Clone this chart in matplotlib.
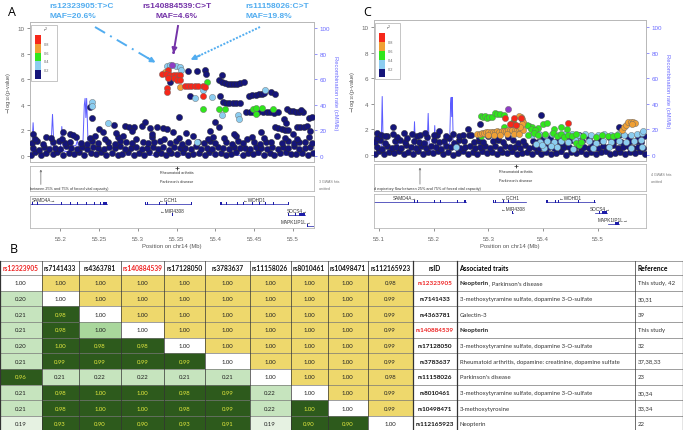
import matplotlib
matplotlib.use('Agg')
import matplotlib.pyplot as plt
from matplotlib.patches import Rectangle, FancyArrowPatch
from matplotlib.lines import Line2D

plt.rcParams['font.family'] = ['Liberation Sans', 'DejaVu Sans']

# ---------------- data: recombination rate (cM/Mb) ----------------
recomb_pos = [55.085, 55.100, 55.104, 55.106, 55.108, 55.120, 55.133, 55.135, 55.137, 55.150,
              55.160, 55.163, 55.165, 55.167, 55.180, 55.186, 55.188, 55.190, 55.192, 55.198,
              55.200, 55.202, 55.204, 55.212, 55.213, 55.220, 55.222, 55.224, 55.226, 55.229,
              55.231, 55.232, 55.233, 55.234, 55.236, 55.245, 55.270, 55.300, 55.340, 55.380,
              55.420, 55.460, 55.500, 55.540, 55.590]
recomb_rate = [1.0, 1.2, 2.0, 45.7, 2.0, 1.0, 1.5, 15.0, 1.5, 1.0,
               1.2, 2.0, 26.0, 2.5, 2.0, 3.0, 6.0, 32.5, 5.0, 3.0,
               4.0, 23.0, 4.0, 3.0, 8.0, 8.0, 12.0, 6.0, 9.0, 6.0,
               40.0, 45.0, 30.0, 45.0, 6.0, 1.5, 0.8, 0.6, 0.5, 0.7,
               0.5, 0.6, 0.8, 0.6, 0.5]

# ---------------- panel A SNPs ----------------
a_band_pos = [55.162, 55.168, 55.175, 55.182, 55.190, 55.196, 55.203, 55.211, 55.218, 55.224,
              55.231, 55.239, 55.246, 55.252, 55.259, 55.267, 55.274, 55.280, 55.287, 55.295,
              55.302, 55.308, 55.315, 55.323, 55.330, 55.336, 55.343, 55.351, 55.358, 55.364,
              55.371, 55.379, 55.386, 55.392, 55.399, 55.407, 55.414, 55.420, 55.427, 55.435,
              55.442, 55.448, 55.455, 55.463, 55.470, 55.476, 55.483, 55.491, 55.498, 55.504,
              55.511, 55.519, 55.526,
              55.165, 55.172, 55.179, 55.186, 55.193, 55.200, 55.207, 55.214, 55.221, 55.228,
              55.235, 55.242, 55.249, 55.256, 55.263, 55.270, 55.277, 55.284, 55.291, 55.298,
              55.305, 55.312, 55.319, 55.326, 55.333, 55.340, 55.347, 55.354, 55.361, 55.368,
              55.375, 55.382, 55.389, 55.396, 55.403, 55.410, 55.417, 55.424, 55.431, 55.438,
              55.445, 55.452, 55.459, 55.466, 55.473, 55.480, 55.487, 55.494, 55.501, 55.508,
              55.515, 55.522,
              55.163, 55.170, 55.178, 55.191, 55.198, 55.206, 55.213, 55.227, 55.234, 55.241,
              55.249, 55.262, 55.270, 55.277, 55.285, 55.292, 55.306, 55.313, 55.321, 55.328,
              55.342, 55.349, 55.357, 55.364, 55.378, 55.385, 55.393, 55.400, 55.414, 55.421,
              55.429, 55.436, 55.450, 55.457, 55.465, 55.472, 55.486, 55.493, 55.501, 55.508,
              55.516, 55.524,
              55.167, 55.181, 55.188, 55.202, 55.220, 55.238, 55.245, 55.258, 55.274, 55.281,
              55.297, 55.318, 55.334, 55.353, 55.371, 55.390, 55.397, 55.411, 55.426, 55.441,
              55.447, 55.462, 55.479, 55.490, 55.505, 55.520]
a_band_logp = [0.10, 0.28, 0.05, 0.22, 0.15, 0.32, 0.08, 0.25, 0.12, 0.30,
               0.06, 0.20, 0.14, 0.33, 0.09, 0.26, 0.04, 0.18, 0.29, 0.11,
               0.24, 0.07, 0.31, 0.16, 0.21, 0.05, 0.27, 0.13, 0.34, 0.08,
               0.19, 0.23, 0.06, 0.30, 0.12, 0.25, 0.09, 0.17, 0.28, 0.04,
               0.22, 0.14, 0.31, 0.10, 0.26, 0.07, 0.20, 0.33, 0.12, 0.18,
               0.27, 0.08, 0.21,
               0.62, 0.50, 0.71, 0.58, 0.66, 0.54, 0.75, 0.60, 0.52, 0.69,
               0.57, 0.73, 0.63, 0.51, 0.68, 0.59, 0.77, 0.55, 0.64, 0.70,
               0.53, 0.61, 0.74, 0.56, 0.67, 0.50, 0.72, 0.60, 0.65, 0.54,
               0.76, 0.58, 0.63, 0.52, 0.70, 0.61, 0.55, 0.74, 0.59, 0.66,
               0.51, 0.69, 0.62, 0.57, 0.73, 0.54, 0.68, 0.60, 0.75, 0.56,
               0.64, 0.71,
               1.02, 1.15, 0.96, 1.08, 1.18, 0.99, 1.12, 1.05, 0.95, 1.16,
               1.03, 1.10, 0.97, 1.19, 1.06, 1.00, 1.13, 0.98, 1.09, 1.17,
               1.01, 1.14, 0.96, 1.07, 1.11, 0.99, 1.18, 1.04, 1.08, 0.97,
               1.15, 1.02, 1.10, 0.95, 1.12, 1.06, 1.00, 1.16, 0.98, 1.09,
               1.13, 1.03,
               1.35, 1.52, 1.42, 1.30, 1.48, 1.38, 1.55, 1.33, 1.45, 1.60,
               1.36, 1.50, 1.32, 1.44, 1.58, 1.34, 1.47, 1.40, 1.53, 1.31,
               1.46, 1.38, 1.56, 1.42, 1.35, 1.50]

a_navy_pos = [55.238, 55.241, 55.269,
              55.283, 55.288, 55.295, 55.305, 55.316, 55.325, 55.333, 55.338,
              55.250, 55.213, 55.309,
              55.341, 55.341, 55.365, 55.376, 55.386, 55.388, 55.409,
              55.404, 55.408, 55.412, 55.416, 55.420, 55.424, 55.428, 55.432, 55.437,
              55.367,
              55.410, 55.414, 55.418, 55.422, 55.427, 55.432,
              55.406,
              55.443, 55.447, 55.452, 55.456, 55.460, 55.463, 55.472, 55.477,
              55.440, 55.444, 55.449, 55.455, 55.461, 55.466, 55.470, 55.476, 55.481,
              55.492, 55.496, 55.500, 55.504, 55.508, 55.513, 55.510,
              55.477, 55.481, 55.486, 55.490, 55.493,
              55.505, 55.509, 55.514, 55.518,
              55.520, 55.488, 55.491, 55.522,
              55.353, 55.399, 55.405, 55.524,
              55.165, 55.204, 55.217, 55.255, 55.272, 55.292, 55.318, 55.345, 55.362, 55.393,
              55.424, 55.459, 55.500]
a_navy_logp = [3.85, 2.97, 2.42,
               2.37, 2.30, 2.25, 2.33, 2.20, 2.28, 2.15, 2.10,
               2.10, 1.72, 2.63,
               5.82, 6.07, 6.62, 6.62, 6.74, 6.40, 6.33,
               5.90, 5.80, 5.70, 5.62, 5.60, 5.62, 5.65, 5.70, 5.75,
               4.71,
               4.19, 4.17, 4.15, 4.16, 4.14, 4.15,
               4.66,
               4.70, 4.75, 4.80, 4.85, 4.88, 4.90, 5.02, 4.84,
               3.40, 3.42, 3.40, 3.45, 3.41, 3.43, 3.40, 3.38, 3.42,
               3.67, 3.55, 3.50, 3.45, 3.47, 3.40, 3.60,
               2.30, 2.20, 2.10, 2.05, 2.00,
               2.30, 2.28, 2.30, 2.32,
               2.94, 2.90, 2.60, 1.98,
               3.02, 2.63, 2.24, 3.02,
               1.75, 1.85, 1.65, 1.90, 1.80, 1.95, 1.70, 1.88, 1.78, 1.92,
               1.68, 1.85, 1.75]

a_lblue_pos = [55.241, 55.241, 55.262, 55.337, 55.342, 55.349, 55.354, 55.356, 55.384, 55.373,
               55.396, 55.408, 55.429, 55.430, 55.464, 55.376]
a_lblue_logp = [4.20, 3.90, 2.55, 7.05, 7.10, 7.00, 6.93, 6.74, 5.16, 4.53,
                4.58, 3.20, 3.20, 2.90, 5.18, 1.12]

a_green_pos = [55.389, 55.384, 55.405, 55.412, 55.449, 55.452, 55.460, 55.474, 55.452]
a_green_logp = [5.80, 3.67, 3.70, 3.70, 3.70, 3.72, 3.72, 3.70, 3.28]

a_orange_pos = [55.354, 55.335]
a_orange_logp = [5.40, 6.54]

a_red_pos = [55.339, 55.331, 55.336, 55.341, 55.346, 55.350, 55.354, 55.339, 55.346, 55.350,
             55.354, 55.337, 55.337, 55.361, 55.365, 55.369, 55.373, 55.378, 55.384, 55.386,
             55.384]
a_red_logp = [6.72, 6.40, 6.40, 6.35, 6.35, 6.35, 6.35, 6.10, 6.10, 5.90,
              5.90, 5.29, 5.02, 5.50, 5.48, 5.45, 5.45, 5.45, 5.50, 5.40,
              4.71]

a_lead_pos = [55.344]
a_lead_logp = [7.13]

# ---------------- panel C SNPs ----------------
c_band_pos = [55.092, 55.100, 55.109, 55.118, 55.127, 55.136, 55.145, 55.154, 55.163, 55.172,
              55.181, 55.190, 55.199, 55.208, 55.217, 55.226, 55.235, 55.244, 55.253, 55.262,
              55.271, 55.280, 55.289, 55.298, 55.307, 55.316, 55.325, 55.334, 55.343, 55.352,
              55.361, 55.370, 55.379, 55.388, 55.397, 55.406, 55.415, 55.424, 55.433, 55.442,
              55.451, 55.460, 55.469, 55.478, 55.487, 55.496, 55.505, 55.514, 55.523, 55.532,
              55.541, 55.550, 55.559, 55.568, 55.577, 55.586,
              55.096, 55.105, 55.114, 55.123, 55.132, 55.141, 55.150, 55.159, 55.168, 55.177,
              55.186, 55.195, 55.204, 55.213, 55.222, 55.231, 55.240, 55.249, 55.258, 55.267,
              55.276, 55.285, 55.294, 55.303, 55.312, 55.321, 55.330, 55.339, 55.348, 55.357,
              55.366, 55.375, 55.384, 55.393, 55.402, 55.411, 55.420, 55.429, 55.438, 55.447,
              55.456, 55.465, 55.474, 55.483, 55.492, 55.501, 55.510, 55.519, 55.528, 55.537,
              55.546, 55.555, 55.564, 55.573, 55.582,
              55.093, 55.102, 55.111, 55.129, 55.138, 55.147, 55.165, 55.174, 55.183, 55.201,
              55.210, 55.219, 55.237, 55.246, 55.255, 55.273, 55.282, 55.291, 55.309, 55.318,
              55.327, 55.345, 55.354, 55.363, 55.381, 55.390, 55.399, 55.417, 55.426, 55.435,
              55.453, 55.462, 55.471, 55.489, 55.498, 55.507, 55.525, 55.534, 55.543, 55.561,
              55.570, 55.579,
              55.097, 55.115, 55.133, 55.151, 55.170, 55.188, 55.206, 55.228, 55.246, 55.264,
              55.282, 55.300, 55.318, 55.336, 55.394, 55.412, 55.430, 55.448, 55.466, 55.484,
              55.502, 55.520, 55.538, 55.556, 55.574, 55.585]
c_band_logp = [0.10, 0.28, 0.05, 0.22, 0.15, 0.32, 0.08, 0.25, 0.12, 0.30,
               0.06, 0.20, 0.14, 0.33, 0.09, 0.26, 0.04, 0.18, 0.29, 0.11,
               0.24, 0.07, 0.31, 0.16, 0.21, 0.05, 0.27, 0.13, 0.34, 0.08,
               0.19, 0.23, 0.06, 0.30, 0.12, 0.25, 0.09, 0.17, 0.28, 0.04,
               0.22, 0.14, 0.31, 0.10, 0.26, 0.07, 0.20, 0.33, 0.12, 0.18,
               0.27, 0.08, 0.21, 0.15, 0.29, 0.11,
               0.62, 0.50, 0.71, 0.58, 0.66, 0.54, 0.75, 0.60, 0.52, 0.69,
               0.57, 0.73, 0.63, 0.51, 0.68, 0.59, 0.77, 0.55, 0.64, 0.70,
               0.53, 0.61, 0.74, 0.56, 0.67, 0.50, 0.72, 0.60, 0.65, 0.54,
               0.76, 0.58, 0.63, 0.52, 0.70, 0.61, 0.55, 0.74, 0.59, 0.66,
               0.51, 0.69, 0.62, 0.57, 0.73, 0.54, 0.68, 0.60, 0.75, 0.56,
               0.64, 0.71, 0.58, 0.66, 0.53,
               1.02, 1.15, 0.96, 1.08, 1.18, 0.99, 1.12, 1.05, 0.95, 1.16,
               1.03, 1.10, 0.97, 1.19, 1.06, 1.00, 1.13, 0.98, 1.09, 1.17,
               1.01, 1.14, 0.96, 1.07, 1.11, 0.99, 1.18, 1.04, 1.08, 0.97,
               1.15, 1.02, 1.10, 0.95, 1.12, 1.06, 1.00, 1.16, 0.98, 1.09,
               1.13, 1.03,
               1.35, 1.52, 1.42, 1.30, 1.48, 1.38, 1.55, 1.33, 1.45, 1.60,
               1.36, 1.50, 1.32, 1.44, 1.58, 1.34, 1.47, 1.40, 1.53, 1.31,
               1.46, 1.38, 1.56, 1.42, 1.35, 1.50]

c_navy_pos = [55.125, 55.126, 55.284, 55.397, 55.538,
              55.096, 55.104, 55.112, 55.146, 55.160, 55.175, 55.185, 55.200, 55.222, 55.235,
              55.254, 55.269, 55.300,
              55.262, 55.210]
c_navy_logp = [2.15, 1.63, 2.40, 3.10, 2.20,
               1.70, 1.55, 1.50, 1.75, 1.62, 1.60, 1.70, 1.58, 1.50, 1.62,
               1.58, 1.55, 1.65,
               2.00, 1.85]

c_lblue_pos = [55.240,
               55.380, 55.392, 55.404, 55.416, 55.428, 55.440, 55.452, 55.464, 55.476, 55.488,
               55.500, 55.512, 55.524, 55.536, 55.548, 55.560, 55.572, 55.580, 55.583,
               55.395, 55.408, 55.420, 55.433, 55.445, 55.458, 55.470, 55.484, 55.497, 55.510,
               55.524, 55.538, 55.552, 55.566, 55.578,
               55.402, 55.425, 55.455, 55.492, 55.520, 55.560, 55.580,
               55.387, 55.398, 55.414]
c_lblue_logp = [0.60,
                1.55, 1.62, 1.58, 1.65, 1.60, 1.68, 1.62, 1.58, 1.64, 1.60,
                1.56, 1.62, 1.58, 1.66, 1.60, 1.57, 1.63, 1.70, 1.90,
                1.05, 1.12, 0.98, 1.10, 1.02, 1.15, 1.00, 1.08, 0.95, 1.12,
                1.04, 1.10, 0.98, 1.06, 1.14,
                0.55, 0.62, 0.50, 0.58, 0.65, 0.52, 0.60,
                0.85, 0.75, 0.70]

c_green_pos = [55.286, 55.290, 55.294, 55.298, 55.302, 55.306, 55.313, 55.316, 55.322, 55.329,
               55.287, 55.328,
               55.374, 55.380, 55.378, 55.390, 55.386, 55.400, 55.407, 55.420, 55.432, 55.444,
               55.373, 55.384, 55.390, 55.404, 55.418, 55.425, 55.432, 55.438, 55.446, 55.452,
               55.460, 55.472, 55.496, 55.508, 55.518, 55.528, 55.535,
               55.460, 55.466, 55.470,
               55.345, 55.355, 55.370]
c_green_logp = [3.05, 2.98, 3.08, 2.90, 3.00, 2.95, 3.26, 3.20, 3.18, 3.15,
                1.45, 2.15,
                2.30, 2.20, 2.05, 2.10, 1.95, 2.40, 2.48, 2.05, 2.15, 2.00,
                1.60, 1.70, 1.55, 1.65, 1.75, 1.50, 1.62, 1.40, 1.55, 1.45,
                1.65, 1.50, 1.40, 1.55, 1.45, 1.50, 1.60,
                0.95, 0.80, 1.00,
                2.55, 2.25, 2.35]

c_orange_pos = [55.280, 55.284, 55.288, 55.292, 55.296, 55.300, 55.304, 55.308, 55.312, 55.316,
                55.320, 55.324, 55.328, 55.332, 55.336, 55.340, 55.344, 55.348, 55.352, 55.356,
                55.360, 55.364,
                55.300, 55.310, 55.322, 55.334, 55.346, 55.356,
                55.360, 55.362, 55.364, 55.362, 55.358, 55.356,
                55.545, 55.548, 55.552, 55.556, 55.560, 55.565, 55.568, 55.562]
c_orange_logp = [1.62, 1.68, 1.72, 1.70, 1.76, 1.80, 1.78, 1.82, 1.80, 1.85,
                 1.83, 1.88, 1.86, 1.90, 1.92, 1.95, 1.93, 1.98, 1.96, 2.00,
                 2.02, 1.98,
                 1.55, 1.58, 1.60, 1.64, 1.62, 1.68,
                 2.95, 2.78, 2.60, 2.40, 2.22, 3.05,
                 1.96, 2.20, 2.35, 2.55, 2.58, 2.60, 2.50, 2.42]

c_red_pos = [55.331, 55.347, 55.359, 55.344, 55.350, 55.445, 55.340]
c_red_logp = [2.92, 2.92, 2.92, 2.40, 2.33, 2.48, 2.45]

c_lead_pos = [55.335]
c_lead_logp = [3.62]

# ---------------- genes ----------------
gene_names = ['SAMD4A', 'GCH1', 'MIR4308', 'WDHD1', 'SOCS4', 'MAPK1IP1L']
gene_start = [55.034, 55.309, 55.3435, 55.406, 55.494, 55.518]
gene_end = [55.260, 55.369, 55.3445, 55.494, 55.516, 55.538]
gene_row = [0, 0, 1, 0, 1, 2]
gene_strand = ['+', '-', '-', '-', '+', '+']
gene_exons = [
    [(55.034, 55.035), (55.164, 55.165), (55.170, 55.171), (55.201, 55.202), (55.212, 55.213),
     (55.222, 55.223), (55.233, 55.234), (55.243, 55.244), (55.251, 55.252), (55.255, 55.260)],
    [(55.309, 55.311), (55.312, 55.313), (55.327, 55.328), (55.336, 55.337), (55.368, 55.369)],
    [(55.3435, 55.3445)],
    [(55.406, 55.409), (55.414, 55.415), (55.422, 55.423), (55.428, 55.429), (55.436, 55.437),
     (55.447, 55.448), (55.456, 55.457), (55.464, 55.465), (55.474, 55.475), (55.493, 55.494)],
    [(55.494, 55.495), (55.503, 55.504), (55.508, 55.516)],
    [(55.518, 55.519), (55.532, 55.538)],
]

# ---------------- LD table ----------------
rs_ids = ['rs12323905', 'rs7141433', 'rs4363781', 'rs140884539', 'rs17128050',
          'rs3783637', 'rs11158026', 'rs8010461', 'rs10498471', 'rs112165923']
ld_r2 = [
    [1.00, 1.00, 1.00, 1.00, 1.00, 1.00, 1.00, 1.00, 1.00, 0.98],
    [0.20, 1.00, 1.00, 1.00, 1.00, 1.00, 1.00, 1.00, 1.00, 0.99],
    [0.21, 0.98, 1.00, 1.00, 1.00, 1.00, 1.00, 1.00, 1.00, 0.99],
    [0.21, 0.98, 1.00, 1.00, 1.00, 1.00, 1.00, 1.00, 1.00, 0.99],
    [0.20, 1.00, 0.98, 0.98, 1.00, 1.00, 1.00, 1.00, 1.00, 0.99],
    [0.21, 0.99, 0.99, 0.99, 0.99, 1.00, 1.00, 1.00, 1.00, 0.99],
    [0.96, 0.21, 0.22, 0.22, 0.21, 0.21, 1.00, 1.00, 1.00, 0.98],
    [0.21, 0.98, 1.00, 1.00, 0.98, 0.99, 0.22, 1.00, 1.00, 0.99],
    [0.21, 0.98, 1.00, 1.00, 0.98, 0.99, 0.22, 1.00, 1.00, 0.99],
    [0.19, 0.93, 0.90, 0.90, 0.93, 0.91, 0.19, 0.90, 0.90, 1.00],
]
red_ids = ['rs12323905', 'rs140884539']
pale_cells = [(3, 2)]
trait_bold = ['Neopterin', '', '', 'Neopterin', '', '', '', '', '', '']
trait_text = [", Parkinson's disease",
              '3-methoxytyramine sulfate, dopamine 3-O-sulfate',
              'Galectin-3',
              '',
              '3-methoxytyramine sulfate, dopamine 3-O-sulfate',
              'Rheumatoid arthritis, dopamine: creatinine, dopamine sulfate',
              "Parkinson's disease",
              '3-methoxytyramine sulfate, dopamine 3-O-sulfate',
              '3-methoxytyrosine',
              'Neopterin']
references = ['This study, 42', '30,31', '39', 'This study', '32', '37,38,33', '23', '30,34', '33,34', '22']

# ---------------- styles ----------------
LD = {'navy': '#15157a', 'lblue': '#8ccdf0', 'green': '#30e61c', 'orange': '#f0a035',
      'red': '#f6281a', 'lead': '#8e3cc4'}
REC = '#5c5cff'
GRID = '#b8b8b8'
W, H = 683, 431

fig = plt.figure(figsize=(6.83, 4.31), dpi=100)


def frect(x0, y0, x1, y1):
    return [x0 / W, 1 - y1 / H, (x1 - x0) / W, (y1 - y0) / H]


def fp(px, py):
    return (px / W, 1 - py / H)


# table first so that plot panels sit above it
tab = fig.add_axes([0, 0, 1, 1])
tab.set_xlim(0, W)
tab.set_ylim(H, 0)
tab.axis('off')

col_edges = [0, 41.5, 79, 121, 164, 205, 249.5, 290.5, 327.5, 368, 412.5, 457, 635, 683]
head_top, row_top, row_h = 262, 276, 15.67
TF = ['Lato', 'DejaVu Sans']


def cell_colour(i, j, v):
    if i == j:
        return 'white', '#222222'
    if j > i:
        return '#eed86c', '#222222'
    if (i, j) in pale_cells:
        return '#a9d79c', '#222222'
    if v >= 0.9:
        return '#2d5a1c', '#e4ea3e'
    if v < 0.195:
        return '#e6f2e2', '#222222'
    return '#c6e4be', '#222222'


for j, rs in enumerate(rs_ids):
    xc = (col_edges[j] + col_edges[j + 1]) / 2
    tab.text(xc, (head_top + row_top) / 2, rs, ha='center', va='center', fontsize=4.8,
             fontweight='bold', family=TF, color='#ee2222' if rs in red_ids else '#111111')
tab.text((col_edges[10] + col_edges[11]) / 2, (head_top + row_top) / 2, 'rsID', ha='center',
         va='center', fontsize=4.8, fontweight='bold', family=TF)
tab.text(459.5, (head_top + row_top) / 2, 'Associated traits', ha='left', va='center',
         fontsize=4.8, fontweight='bold', family=TF)
tab.text(638, (head_top + row_top) / 2, 'Reference', ha='left', va='center',
         fontsize=4.8, fontweight='bold', family=TF)

for i, row in enumerate(ld_r2):
    y0 = row_top + i * row_h
    yc = y0 + row_h / 2
    for j, v in enumerate(row):
        fc, tc = cell_colour(i, j, v)
        tab.add_patch(Rectangle((col_edges[j], y0), col_edges[j + 1] - col_edges[j], row_h,
                                fc=fc, ec='none'))
        tab.text((col_edges[j] + col_edges[j + 1]) / 2, yc, '%.2f' % v, ha='center', va='center',
                 fontsize=4.3, family=TF, color=tc)
    rs = rs_ids[i]
    tab.text((col_edges[10] + col_edges[11]) / 2, yc, rs, ha='center', va='center', fontsize=4.6,
             fontweight='bold', family=TF, color='#ee2222' if rs in red_ids else '#111111')
    if trait_bold[i]:
        t = tab.text(459.5, yc, trait_bold[i], ha='left', va='center', fontsize=4.6,
                     fontweight='bold', family=TF, color='#222222')
        if trait_text[i]:
            tab.annotate(trait_text[i], xy=(1, 0), xycoords=t, ha='left', va='bottom',
                         fontsize=4.3, family=TF, color='#333333')
    else:
        tab.text(459.5, yc, trait_text[i], ha='left', va='center', fontsize=4.3, family=TF,
                 color='#333333')
    tab.text(638, yc, references[i], ha='left', va='center', fontsize=4.3, family=TF,
             color='#333333')

n_rows = len(rs_ids)
for k in range(n_rows + 2):
    yy = head_top if k == 0 else row_top + (k - 1) * row_h
    tab.plot([0, W], [yy, yy], color='#777777', lw=0.5)
for k, xe in enumerate(col_edges):
    tab.plot([xe, xe], [head_top, H], color='#333333', lw=0.9 if k in (0, 10, 11, 13) else 0.5)
tab.text(14, 250, 'B', fontsize=9, ha='center', va='center', family=['Open Sans', 'DejaVu Sans'])


def scatter_layers(ax, layers):
    for pos, logp, key in layers:
        ax.scatter(pos, logp, s=20, c=LD[key], edgecolors='#2a2a2a' if key == 'navy' else '#666666',
                   linewidths=0.3, zorder=3)


def ld_legend(ax):
    ax.add_patch(Rectangle((0.004, 0.58), 0.091, 0.40, transform=ax.transAxes, fc='white',
                           ec='#bbbbbb', lw=0.6, zorder=5))
    cols = ['navy', 'lblue', 'green', 'orange', 'red']
    y0, hh = 0.593, 0.063
    for k, c in enumerate(cols):
        ax.add_patch(Rectangle((0.018, y0 + k * hh), 0.021, hh, transform=ax.transAxes,
                               fc=LD[c], ec='none', zorder=6))
    for k, lab in enumerate(['0.2', '0.4', '0.6', '0.8']):
        ax.text(0.05, y0 + (k + 1) * hh, lab, transform=ax.transAxes, fontsize=2.8,
                color='#666666', va='center', zorder=7)
    ax.text(0.045, 0.945, '$r^2$', transform=ax.transAxes, fontsize=3.2, color='#444444',
            va='center', zorder=7)


def locus(main_px, gwas_px, gene_px, xlim, ylim, xticks, xlabels, layers, gwas_left, omitted,
          omit_y):
    ax = fig.add_axes(frect(*main_px))
    rr = ax.twinx()
    rr.plot(recomb_pos, recomb_rate, color=REC, lw=0.7)
    rr.set_ylim(ylim[0] * 10, ylim[1] * 10)
    ax.set_zorder(rr.get_zorder() + 1)
    ax.patch.set_visible(False)
    scatter_layers(ax, layers)
    ld_legend(ax)
    ax.set_xlim(*xlim)
    ax.set_ylim(*ylim)
    ax.set_xticks([])
    ax.set_yticks([0, 2, 4, 6, 8, 10])
    ax.tick_params(axis='y', labelsize=4.5, colors='#666666', length=2, width=0.5, pad=2)
    rr.set_yticks([0, 20, 40, 60, 80, 100])
    rr.tick_params(axis='y', labelsize=4.5, colors='#6a6aff', length=2, width=0.5, pad=2)
    ax.set_ylabel(r'$-\log_{10}$(p-value)', fontsize=4, color='#555555', labelpad=3)
    rr.set_ylabel('Recombination rate (cM/Mb)', fontsize=4.2, color='#6a6aff', rotation=270,
                  labelpad=6)
    for a in (ax, rr):
        for sp in a.spines.values():
            sp.set_color(GRID)
            sp.set_linewidth(0.6)

    # GWAS catalogue track
    g = fig.add_axes(frect(*gwas_px))
    g.set_xlim(*xlim)
    g.set_ylim(1, 0)
    g.set_xticks([])
    g.set_yticks([])
    for sp in g.spines.values():
        sp.set_color(GRID)
        sp.set_linewidth(0.6)
    g.annotate('', xy=(55.175, 0.03), xytext=(55.175, 0.85),
               arrowprops=dict(arrowstyle='->', color='#666666', lw=0.5, mutation_scale=3))
    g.plot([55.35, 55.35], [0.0, 0.12], color='#333333', lw=0.5)
    g.plot([55.35], [0.06], marker='+', ms=3, color='#333333', mew=0.5)
    g.text(55.35, 0.25, 'Rheumatoid arthritis', fontsize=2.7, ha='center', va='center',
           color='#333333')
    g.text(55.35, 0.6, "Parkinson's disease", fontsize=2.7, ha='center', va='center',
           color='#333333')
    g.text(xlim[0], 0.9, gwas_left, fontsize=2.7, ha='left', va='center', color='#333333')
    ox = main_px[2] + 5
    fig.text(*fp(ox, omit_y[0]), omitted[0], fontsize=2.6, color='#777777', va='center')
    fig.text(*fp(ox, omit_y[1]), omitted[1], fontsize=2.6, color='#777777', va='center')

    # gene track
    ge = fig.add_axes(frect(*gene_px))
    hpx = gene_px[3] - gene_px[1]
    ge.set_xlim(*xlim)
    ge.set_ylim(hpx, 0)
    ge.set_yticks([])
    for sp in ge.spines.values():
        sp.set_color(GRID)
        sp.set_linewidth(0.6)
    ppm = (main_px[2] - main_px[0]) / (xlim[1] - xlim[0])
    for name, s, e, r, st, exons in zip(gene_names, gene_start, gene_end, gene_row,
                                        gene_strand, gene_exons):
        y = 7.5 + 11 * r
        ge.plot([s, e], [y, y], color='#1c1ca8', lw=0.5, clip_on=True)
        for a0, a1 in exons:
            ge.add_patch(Rectangle((a0, y - 1.3), max(a1 - a0, 0.0012), 2.6, fc='#1c1ca8',
                                   ec='none'))
        lab = (name + '\u2192') if st == '+' else ('\u2190' + name)
        half = len(lab) * 3.3 / 2 / ppm
        xc = min(max((s + e) / 2, xlim[0] + half + 0.003), xlim[1] - half - 0.002)
        ge.text(xc, y - 3.6, lab, fontsize=3.4, ha='center', va='center', color='#333333',
                family=['Liberation Sans', 'DejaVu Sans'])
    ge.set_xticks(xticks)
    ge.set_xticklabels(xlabels)
    ge.tick_params(axis='x', labelsize=4.4, colors='#666666', length=2.5, width=0.5, pad=3)
    ge.set_xlabel('Position on chr14 (Mb)', fontsize=4.2, color='#555555', labelpad=1.5)
    return ax


ax_a = locus((30, 23, 314, 163), (30, 167, 314, 192), (30, 197, 314, 229),
             (55.161, 55.527), (-0.47, 10.47),
             [55.2, 55.25, 55.3, 55.35, 55.4, 55.45, 55.5],
             ['55.2', '55.25', '55.3', '55.35', '55.4', '55.45', '55.5'],
             [(a_band_pos, a_band_logp, 'navy'), (a_navy_pos, a_navy_logp, 'navy'),
              (a_lblue_pos, a_lblue_logp, 'lblue'), (a_green_pos, a_green_logp, 'green'),
              (a_orange_pos, a_orange_logp, 'orange'), (a_red_pos, a_red_logp, 'red'),
              (a_lead_pos, a_lead_logp, 'lead')],
             'between 25% and 75% of forced vital capacity)', ('3 GWAS hits', 'omitted'),
             (182, 189))

ax_c = locus((374, 21, 646, 162), (374, 165, 646, 192), (374, 195, 646, 229),
             (55.091, 55.588), (-0.465, 10.54),
             [55.1, 55.2, 55.3, 55.4, 55.5],
             ['55.1', '55.2', '55.3', '55.4', '55.5'],
             [(c_band_pos, c_band_logp, 'navy'), (c_navy_pos, c_navy_logp, 'navy'),
              (c_lblue_pos, c_lblue_logp, 'lblue'), (c_green_pos, c_green_logp, 'green'),
              (c_orange_pos, c_orange_logp, 'orange'), (c_red_pos, c_red_logp, 'red'),
              (c_lead_pos, c_lead_logp, 'lead')],
             'd expiratory flow between 25% and 75% of forced vital capacity)',
             ('4 GWAS hits', 'omitted'), (175, 182))

# panel letters
fig.text(*fp(12, 13), 'A', fontsize=9, ha='center', va='center', family=['Open Sans', 'DejaVu Sans'])
fig.text(*fp(367, 13), 'C', fontsize=9, ha='center', va='center', family=['Open Sans', 'DejaVu Sans'])

# SNP call-outs
BLUE = '#52adf0'
PURP = '#7433a8'
fig.text(*fp(49, 6), 'rs12323905:T>C', fontsize=6, fontweight='bold', color=BLUE, va='center')
fig.text(*fp(50, 16.5), 'MAF=20.6%', fontsize=6, fontweight='bold', color=BLUE, va='center')
fig.text(*fp(177, 6), 'rs140884539:C>T', fontsize=6, fontweight='bold', color=PURP, va='center',
         ha='center')
fig.text(*fp(177, 16.5), 'MAF=4.6%', fontsize=6, fontweight='bold', color=PURP, va='center',
         ha='center')
fig.text(*fp(245, 6), 'rs11158026:C>T', fontsize=6, fontweight='bold', color=BLUE, va='center')
fig.text(*fp(245, 16.5), 'MAF=19.8%', fontsize=6, fontweight='bold', color=BLUE, va='center')


def pointer(p0, p1, color, ls, lw):
    x0, y0 = fp(*p0)
    x1, y1 = fp(*p1)
    fig.add_artist(Line2D([x0, x0 + 0.88 * (x1 - x0)], [y0, y0 + 0.88 * (y1 - y0)],
                          transform=fig.transFigure, color=color, ls=ls, lw=lw, zorder=10))
    fig.add_artist(FancyArrowPatch((x0 + 0.8 * (x1 - x0), y0 + 0.8 * (y1 - y0)), (x1, y1),
                                   transform=fig.transFigure, arrowstyle='-|>', mutation_scale=7,
                                   color=color, lw=lw, zorder=10))


pointer((95, 28), (158, 65), BLUE, (0, (6, 3, 1, 3)), 1.4)
pointer((260, 28), (188, 62), BLUE, (0, (1, 0.8)), 1.4)
pointer((178, 27), (173, 57), PURP, '-', 1.4)

fig.savefig('out.png', dpi=100)
